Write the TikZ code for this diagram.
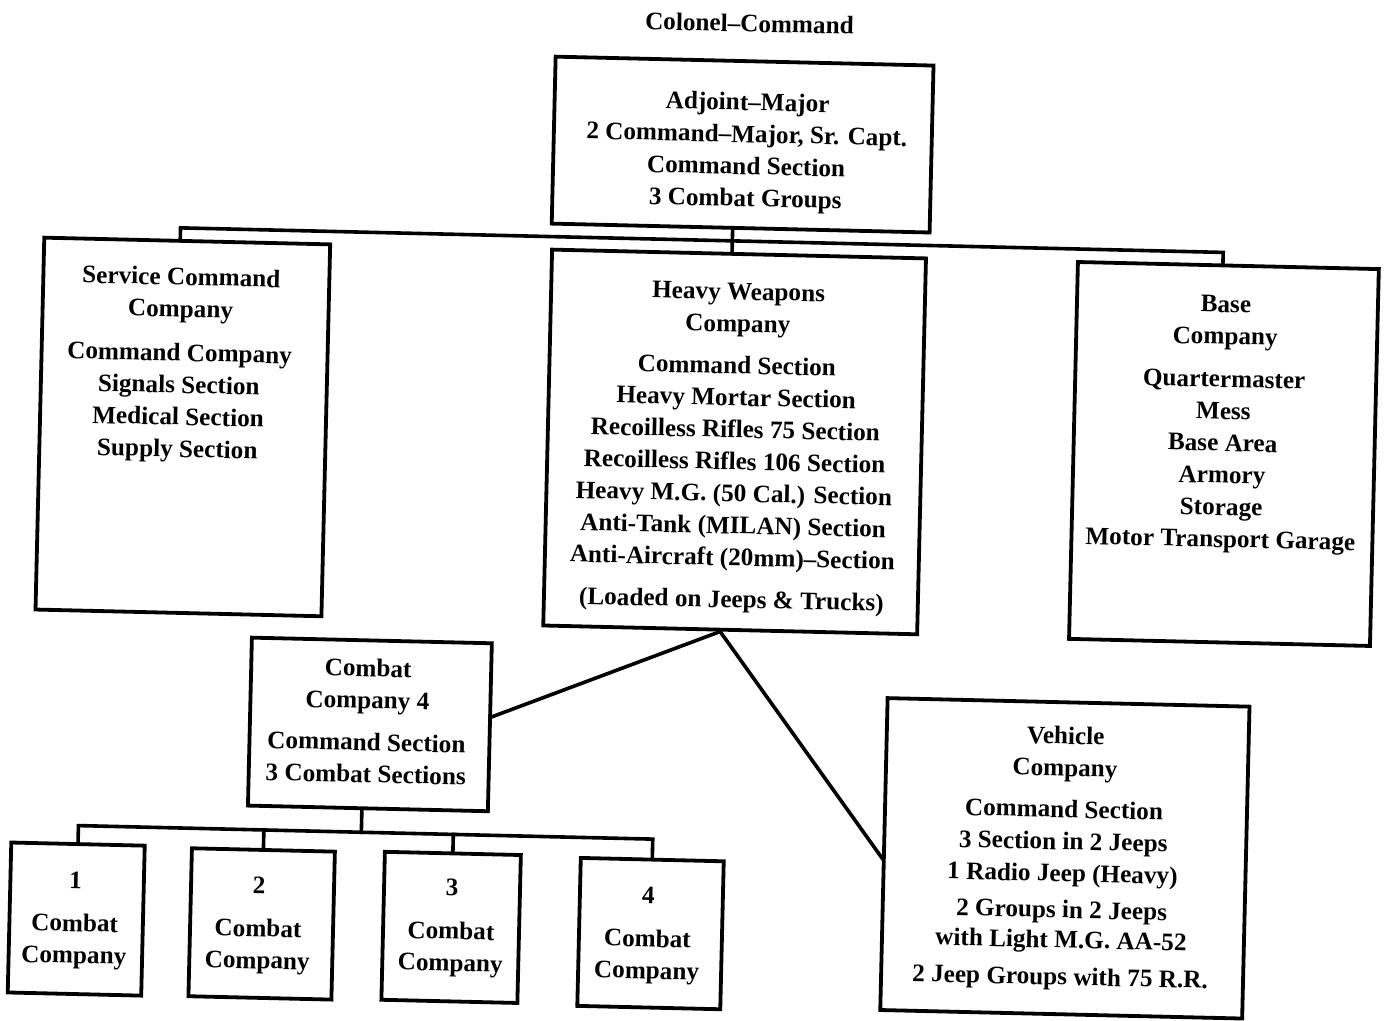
\documentclass[tikz,border=0pt]{standalone}
\usepackage{fontspec}
\setmainfont{Liberation Serif}
\begin{document}
\begin{tikzpicture}[x=0.5pt,y=-0.5pt,
  box/.style={draw, line width=1.9pt, inner sep=0pt, rectangle},
  link/.style={line width=1.8pt, line join=miter, line cap=rect},
  txt/.style={align=center, inner sep=0pt, anchor=north,
    font=\fontsize{12.6}{16}\selectfont\bfseries},
  title/.style={inner sep=0pt, font=\fontsize{12.6}{16}\selectfont\bfseries}
]
\fill[white] (0,0) rectangle (1386,1021);
\useasboundingbox (0,0) rectangle (1386,1021);
\begin{scope}[transform canvas={rotate around={-1.35:(693,510)}}]
  % boxes
  \node[box, minimum width=189pt, minimum height=83.5pt] (adj) at (734,143.5) {};
  \node[box, minimum width=143pt, minimum height=186pt] (svc) at (181,439) {};
  \node[box, minimum width=187pt, minimum height=188pt] (hw) at (733,441) {};
  \node[box, minimum width=150.5pt, minimum height=188.5pt] (base) at (1222.5,441.5) {};
  \node[box, minimum width=120pt, minimum height=84pt] (cc4) at (375,732) {};
  \node[box, minimum width=181pt, minimum height=156pt] (veh) at (1073,849.5) {};
  \node[box, minimum width=66.75pt, minimum height=75pt] (c1) at (86,933.5) {};
  \node[box, minimum width=71.5pt, minimum height=74pt] (c2) at (271.5,934) {};
  \node[box, minimum width=68pt, minimum height=74pt] (c3) at (461,933) {};
  \node[box, minimum width=71.5pt, minimum height=74pt] (c4) at (660.5,934.5) {};

  % texts
  \node[title] (colonel) at (738,22) {Colonel–Command};
  \node[txt] (adjt) at (738,86.5) {\strut Adjoint–Major\\2 Command–Major, Sr. Capt.\\Command Section\\3 Combat Groups};
  \node[txt] (svct) at (176,274.4) {\strut Service Command\\Company\\[6pt]Command Company\\Signals Section\\Medical Section\\Supply Section};
  \node[txt] (hwt) at (733.5,276) {\strut Heavy Weapons\\Company\\[5pt]Command Section\\Heavy Mortar Section\\Recoilless Rifles 75 Section\\Recoilless Rifles 106 Section\\Heavy M.G. (50 Cal.) Section\\Anti-Tank (MILAN) Section\\Anti-Aircraft (20mm)–Section\\[5pt](Loaded on Jeeps \& Trucks)};
  \node[txt] (baset) at (1221,277) {\strut Base\\Company\\[5.5pt]Quartermaster\\Mess\\Base Area\\Armory\\Storage\\Motor Transport Garage};
  \node[txt] (cc4t) at (372,661.4) {\strut Combat\\Company 4\\[5pt]Command Section\\3 Combat Sections};
  \node[txt] (veht) at (1071,712.6) {\strut Vehicle\\Company\\[4.7pt]Command Section\\3 Section in 2 Jeeps\\1 Radio Jeep (Heavy)\\[2.2pt]2 Groups in 2 Jeeps\\[-1pt]with Light M.G. AA-52\\[2.5pt]2 Jeep Groups with 75 R.R.};
  \node[txt] (c1t) at (84.5,880) {\strut 1\\[5.5pt]Combat\\Company};
  \node[txt] (c2t) at (268,881) {\strut 2\\[5.5pt]Combat\\Company};
  \node[txt] (c3t) at (461,878) {\strut 3\\[6pt]Combat\\Company};
  \node[txt] (c4t) at (657.5,882) {\strut 4\\[5.5pt]Combat\\Company};

  % upper tree
  \coordinate (barL) at (174,240);
  \coordinate (barM) at (726,240);
  \coordinate (barR) at (1217,240);
  \draw[link] (barL |- svc.north) -- (barL) -- (barR) -- (barR |- base.north);
  \draw[link] (barM |- adj.south) -- (barM |- hw.north);

  % lower tree
  \coordinate (cbar) at (369,840);
  \draw[link] (cc4.south -| cbar) -- (cbar);
  \draw[link] (c1.north) -- (c1.north |- cbar) -- (c4.north |- cbar) -- (c4.north);
  \draw[link] (c2.north) -- (c2.north |- cbar);
  \draw[link] (c3.north) -- (c3.north |- cbar);

  % diagonals
  \path (hw.south) ++(-10,0) coordinate (hj);
  \path (cc4.east) ++(0,-10.5) coordinate (ccj);
  \path (veh.west) ++(0,4) coordinate (vj);
  \draw[link] (ccj) -- (hj) -- (vj);
\end{scope}
\end{tikzpicture}
\end{document}
